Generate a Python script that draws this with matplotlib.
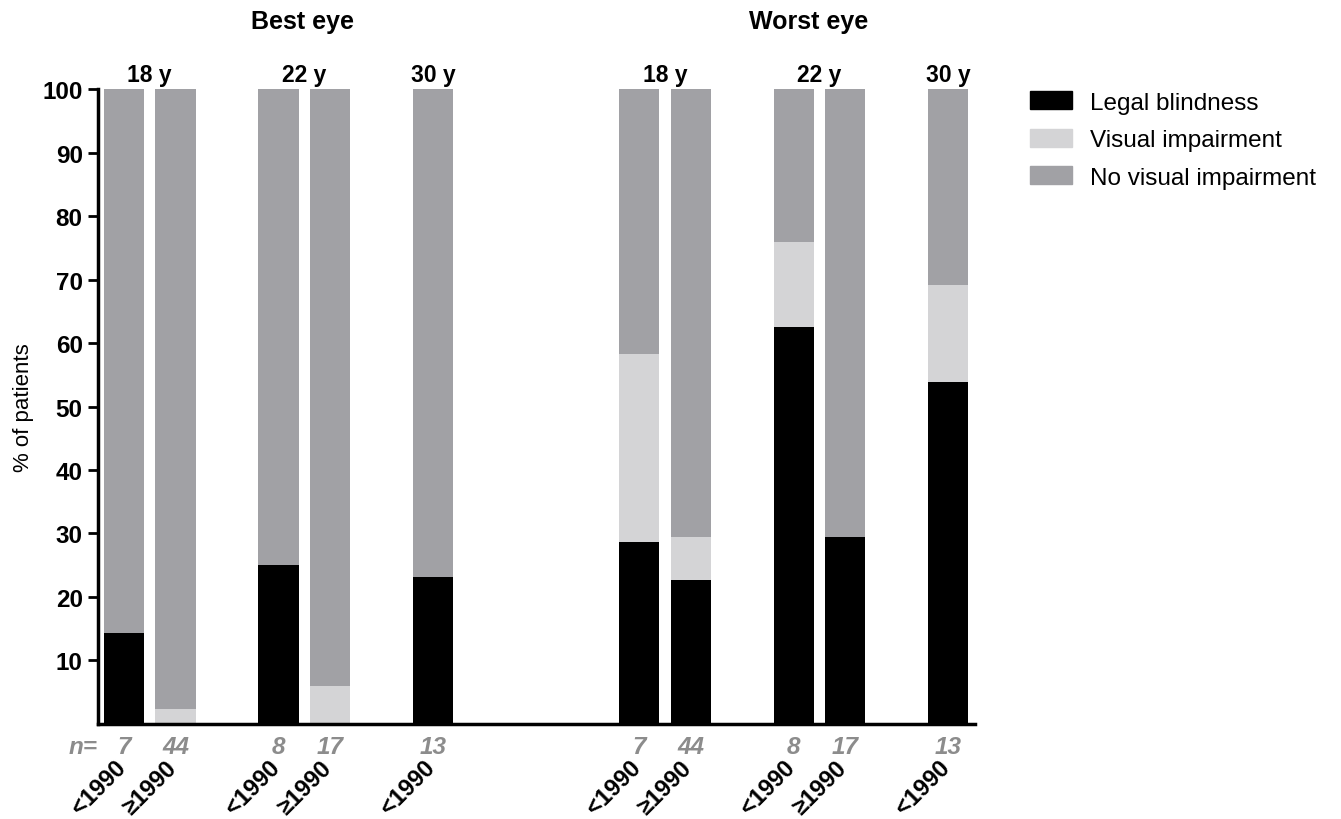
import numpy as np
import matplotlib.pyplot as plt
from matplotlib.patches import Patch

plt.rcParams['font.family'] = ['Liberation Sans', 'DejaVu Sans']

# data (percent of patients)
panels = ['Best eye', 'Worst eye']
ages = ['18 y', '22 y', '30 y']
bar_ages = ['18 y', '18 y', '22 y', '22 y', '30 y']
bar_years = ['<1990', '≥1990', '<1990', '≥1990', '<1990']
n_best = [7, 44, 8, 17, 13]
n_worst = [7, 44, 8, 17, 13]

blind_best = [14.3, 0, 25.0, 0, 23.1]
vi_best = [0, 2.3, 0, 5.9, 0]
blind_worst = [28.6, 22.7, 62.5, 29.4, 53.8]
vi_worst = [29.6, 6.8, 13.5, 0, 15.4]

c_blind = '#000000'
c_vi = '#d4d4d6'
c_novi = '#a1a1a5'

# bar positions (slots)
slots_best = np.array([0, 1, 3, 4, 6])
slots_worst = np.array([10, 11, 13, 14, 16])

fig = plt.figure(figsize=(13.41, 8.2), dpi=100)
ax = fig.add_axes([0.0731, 0.116, 0.654, 0.774])

width = 0.78
for slots, blind, vi, ns in [(slots_best, blind_best, vi_best, n_best),
                             (slots_worst, blind_worst, vi_worst, n_worst)]:
    blind = np.array(blind)
    vi = np.array(vi)
    novi = 100 - blind - vi
    ax.bar(slots, blind, width, color=c_blind, linewidth=0)
    ax.bar(slots, vi, width, bottom=blind, color=c_vi, linewidth=0)
    ax.bar(slots, novi, width, bottom=blind + vi, color=c_novi, linewidth=0)
    for s, n, yr in zip(slots, ns, bar_years):
        ax.text(s, -1.8, str(n), ha='center', va='top', fontsize=17.5,
                fontweight='bold', style='italic', color='#8c8c8c')
        ax.text(s - 0.2, -5.0, yr, ha='right', va='top', rotation=45,
                rotation_mode='anchor', fontsize=17, fontweight='bold')
    # age labels above pairs
    for j, age in enumerate(ages):
        idx = [k for k in range(5) if bar_ages[k] == age]
        ax.text(np.mean(slots[idx]), 102.3, age, ha='center', va='center',
                fontsize=16.5, fontweight='bold')

ax.text(-0.52, -1.8, 'n=', ha='right', va='top', fontsize=17.5,
        fontweight='bold', style='italic', color='#8c8c8c')

# panel titles
ax.text(3.47, 110.8, panels[0], ha='center', va='center', fontsize=18, fontweight='bold')
ax.text(13.28, 110.8, panels[1], ha='center', va='center', fontsize=18, fontweight='bold')

ax.set_xlim(-0.505, 16.52)
ax.set_ylim(0, 100)
ax.set_yticks(np.arange(10, 101, 10))
ax.set_xticks([])
ax.tick_params(axis='y', length=7, width=2, labelsize=17.5, pad=4)
for lab in ax.get_yticklabels():
    lab.set_fontweight('bold')
ax.spines['top'].set_visible(False)
ax.spines['right'].set_visible(False)
ax.spines['left'].set_linewidth(2.5)
ax.spines['bottom'].set_linewidth(2.5)
ax.set_ylabel('% of patients', fontsize=16, labelpad=6)

handles = [Patch(color=c_blind, label='Legal blindness'),
           Patch(color=c_vi, label='Visual impairment'),
           Patch(color=c_novi, label='No visual impairment')]
fig.legend(handles=handles, loc='upper left', bbox_to_anchor=(0.7516, 0.914),
           frameon=False, fontsize=17.5, handlelength=1.73, handleheight=0.75,
           labelspacing=0.62, handletextpad=0.74)

fig.savefig('out.png', dpi=100)
